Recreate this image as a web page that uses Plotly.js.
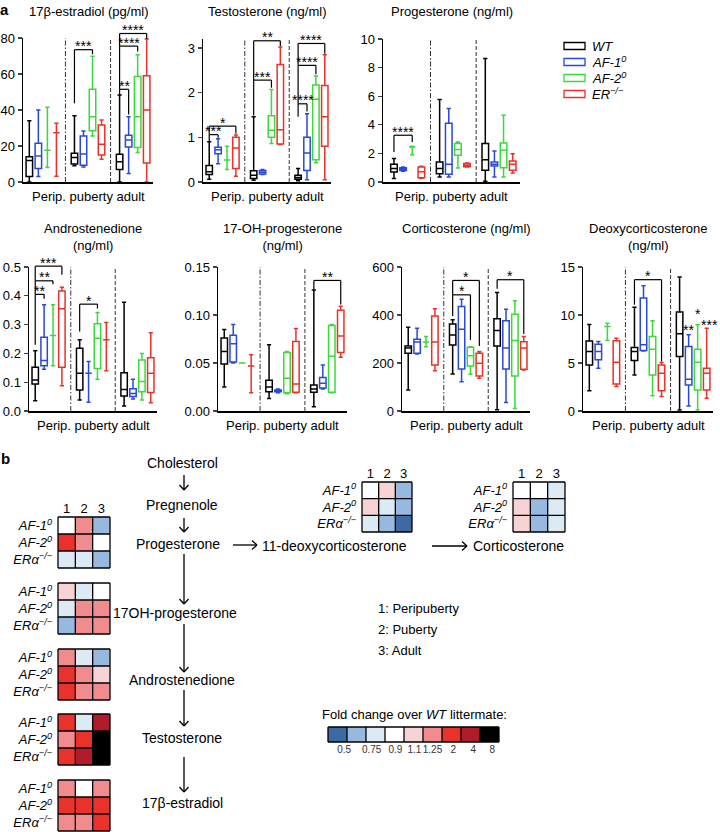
<!DOCTYPE html>
<html>
<head>
<meta charset="utf-8">
<script src="https://cdn.plot.ly/plotly-3.0.1.min.js"></script>
<style>
  html, body { margin: 0; padding: 0; background: #fff; }
  #fig { width: 720px; height: 832px; }
</style>
</head>
<body>
<div id="fig"></div>
<script>
// ---------- data ----------
var groups = ['Perip.', 'puberty', 'adult'];
var genotypes = ['WT', 'AF-1<sup>0</sup>', 'AF-2<sup>0</sup>', 'ER<sup>−/−</sup>'];
var genoColors = ['#000000', '#2a48dc', '#3cd83c', '#e8322a'];

// per genotype (WT, AF-1, AF-2, ER), per group: [low whisker, q1, median, q3, high whisker]
var estradiol = [
  [[0, 3, 12, 14, 34], [9, 10, 13.6, 16, 36.8], [0, 7, 11.2, 15.4, 48.4]],
  [[3, 7.5, 14.5, 21.5, 40], [8.4, 9.3, 15.5, 25.5, 28.3], [4.7, 19.5, 23.3, 26, 36.3]],
  [[8, 17.7, 17.7, 17.7, 41.5], [25.5, 28.5, 36.3, 51.5, 69.8], [16.4, 19.2, 36.3, 58.6, 70.7]],
  [[3.2, 27.3, 27.3, 27.3, 32.6], [12.7, 15, 21, 31.6, 34.4], [0, 10.6, 40, 59, 79.4]]
];
var testosterone = [
  [[0.06, 0.17, 0.23, 0.37, 0.9], [0.04, 0.08, 0.15, 0.25, 1.46], [0.03, 0.06, 0.1, 0.15, 0.3]],
  [[0.41, 0.63, 0.72, 0.78, 0.97], [0.17, 0.18, 0.22, 0.26, 0.28], [0.05, 0.26, 0.65, 1.0, 1.53]],
  [[0.28, 0.49, 0.49, 0.49, 0.8], [0.86, 1.0, 1.16, 1.48, 2.07], [0.43, 0.5, 1.85, 2.17, 2.37]],
  [[0.13, 0.3, 0.76, 1.0, 1.05], [0.84, 0.85, 1.17, 2.63, 3.02], [0.05, 0.8, 1.46, 2.16, 2.85]]
];
var progesterone = [
  [[0.25, 0.7, 0.95, 1.25, 1.65], [0.35, 0.58, 0.95, 1.4, 5.77], [0.05, 0.82, 1.56, 2.69, 8.64]],
  [[0.75, 0.8, 0.9, 1.0, 1.05], [0.35, 0.54, 1.24, 4.1, 5.14], [0.35, 1.12, 1.24, 1.4, 2.17]],
  [[1.9, 2.45, 2.45, 2.45, 2.5], [0.98, 1.87, 2.27, 2.69, 2.8], [0.35, 1.0, 2.22, 2.73, 4.67]],
  [[0.25, 0.3, 0.72, 1.05, 1.1], [1.05, 1.07, 1.17, 1.3, 1.33], [0.63, 0.82, 1.24, 1.47, 1.98]]
];
var androstenedione = [
  [[0.036, 0.094, 0.108, 0.152, 0.209], [0.038, 0.073, 0.131, 0.218, 0.247], [0.017, 0.052, 0.075, 0.133, 0.378]],
  [[0.145, 0.157, 0.175, 0.256, 0.369], [0.03, 0.131, 0.131, 0.131, 0.172], [0.042, 0.05, 0.061, 0.077, 0.11]],
  [[0.157, 0.262, 0.262, 0.262, 0.369], [0.11, 0.148, 0.253, 0.303, 0.342], [0.038, 0.067, 0.102, 0.177, 0.2]],
  [[0.088, 0.152, 0.355, 0.417, 0.43], [0.14, 0.247, 0.247, 0.247, 0.307], [0.029, 0.064, 0.131, 0.185, 0.272]]
];
var ohProgesterone = [
  [[0.025, 0.049, 0.062, 0.076, 0.085], [0.013, 0.02, 0.025, 0.032, 0.069], [0.0045, 0.0195, 0.023, 0.027, 0.126]],
  [[0.05, 0.051, 0.07, 0.079, 0.09], [0.019, 0.02, 0.021, 0.022, 0.023], [0.023, 0.024, 0.029, 0.035, 0.048]],
  [[0.05, 0.05, 0.05, 0.05, 0.05], [0.018, 0.019, 0.034, 0.061, 0.062], [0.019, 0.0195, 0.057, 0.089, 0.09]],
  [[0.019, 0.047, 0.047, 0.047, 0.0585], [0.019, 0.0195, 0.028, 0.0725, 0.086], [0.056, 0.061, 0.078, 0.105, 0.109]]
];
var corticosterone = [
  [[88, 241, 262, 271, 349], [154, 275, 317, 362, 380], [5, 271, 335, 384, 494]],
  [[238, 241, 287, 299, 345], [122, 175, 341, 435, 466], [35, 175, 262, 376, 424]],
  [[268, 287, 287, 287, 310], [153, 188, 230, 266, 268], [10, 146, 294, 403, 459]],
  [[168, 192, 287, 396, 426], [136, 146, 199, 241, 248], [171, 174, 262, 289, 310]]
];
var deoxycorticosterone = [
  [[2.1, 4.8, 6.2, 7.3, 9.0], [3.76, 5.26, 6.2, 6.61, 10.8], [0.1, 5.67, 8.04, 10.3, 13.96]],
  [[4.46, 5.33, 6.2, 6.96, 7.24], [6.25, 6.3, 6.89, 11.76, 13.05], [0.52, 2.71, 3.31, 6.72, 7.94]],
  [[7.34, 8.8, 8.8, 8.8, 9.15], [1.6, 3.76, 6.44, 7.76, 9.4], [0.1, 2.19, 5.08, 6.44, 8.98]],
  [[2.54, 2.82, 5.08, 7.31, 7.59], [1.5, 2.12, 3.93, 4.8, 5.05], [1.32, 2.19, 3.93, 4.46, 8.63]]
];

// significance: [panel, group, genotype from, genotype to, bar value, left foot, right foot, label]
var sigBrackets = [
  [0, 1, 0, 2, 73.5, 43.7, 71, '***'],
  [0, 2, 0, 1, 51.5, 48.5, 37.5, '**'],
  [0, 2, 0, 2, 75.5, 51.5, 72.5, '****'],
  [0, 2, 0, 3, 82.5, 75.5, 79.5, '****'],
  [1, 0, 0, 1, 1.06, 0.9, 0.99, '***'],
  [1, 0, 0, 3, 1.25, 1.06, 1.08, '*'],
  [1, 1, 0, 2, 2.28, 1.49, 2.11, '***'],
  [1, 1, 0, 3, 3.16, 2.28, 3.04, '**'],
  [1, 2, 0, 1, 1.75, 1.46, 1.58, '****'],
  [1, 2, 0, 2, 2.61, 1.75, 2.41, '****'],
  [1, 2, 0, 3, 3.1, 2.61, 2.87, '****'],
  [2, 0, 0, 2, 3.27, 2.1, 2.8, '****'],
  [3, 0, 0, 1, 0.405, 0.23, 0.39, '**'],
  [3, 0, 0, 2, 0.452, 0.405, 0.44, '**'],
  [3, 0, 0, 3, 0.503, 0.452, 0.473, '***'],
  [3, 1, 0, 2, 0.371, 0.276, 0.356, '*'],
  [4, 2, 0, 3, 0.136, 0.126, 0.111, '**'],
  [5, 1, 0, 2, 484, 396, 296, '*'],
  [5, 1, 0, 3, 544, 484, 271, '*'],
  [5, 2, 0, 3, 547, 509, 321, '*'],
  [6, 1, 0, 3, 13.68, 11.07, 5.15, '*']
];
// single stars: [panel, group, genotype, value, label]
var sigStars = [
  [6, 2, 1, 8.74, '**'],
  [6, 2, 2, 10.37, '*'],
  [6, 2, 3, 9.3, '***']
];

// heatmaps: fold change over WT, rows AF-1, AF-2, ERa ; columns 1..3
var hmRows = ['AF-1<sup>0</sup>', 'AF-2<sup>0</sup>', 'ERα<sup>−/−</sup>'];
var hmCols = ['1', '2', '3'];
var foldProgesterone = [[1.0, 1.6, 0.65], [2.8, 1.6, 1.0], [0.85, 0.85, 0.65]];
var fold17OH = [[1.2, 0.85, 1.0], [0.85, 1.6, 1.6], [0.65, 1.6, 1.6]];
var foldAndrostenedione = [[1.6, 0.85, 0.65], [2.8, 1.6, 1.2], [2.8, 1.6, 1.6]];
var foldTestosterone = [[2.8, 0.85, 5], [1.6, 2.8, 10], [2.8, 5, 10]];
var foldEstradiol = [[1.6, 1.0, 1.6], [2.8, 2.8, 2.8], [1.6, 1.6, 2.8]];
var foldDeoxy = [[1.0, 1.2, 0.65], [1.2, 0.85, 0.65], [0.85, 0.65, 0.45]];
var foldCortico = [[1.0, 1.0, 0.85], [1.2, 0.65, 0.85], [1.2, 0.65, 0.85]];

var foldBreaks = [0.5, 0.75, 0.9, 1.1, 1.25, 2, 4, 8];
var foldLabels = ['0.5', '0.75', '0.9', '1.1', '1.25', '2', '4', '8'];
var foldColors = ['#3d6aa3', '#97b8df', '#dcebf3', '#ffffff', '#f8d3d5', '#f08b8e', '#e8322b', '#b01c2b', '#000000'];

// ---------- helpers ----------
var W = 720, H = 832;
function px(x) { return x / W; }
function py(y) { return 1 - y / H; }
function axName(n, l) { return l + 'axis' + (n === 1 ? '' : n); }
function axRef(n, l) { return l + (n === 1 ? '' : n); }

var traces = [], shapes = [], annotations = [];

function line(x0, y0, x1, y1, color, width, dash) {
  shapes.push({type: 'line', xref: 'paper', yref: 'paper', x0: px(x0), y0: py(y0), x1: px(x1), y1: py(y1),
    line: {color: color || '#000', width: width || 1.2, dash: dash || 'solid'}});
}
function text(x, y, s, opts) {
  var a = {xref: 'paper', yref: 'paper', x: px(x), y: py(y), text: s, showarrow: false,
    xanchor: 'center', yanchor: 'middle', font: {size: 13, color: '#000'}};
  for (var k in opts) a[k] = opts[k];
  annotations.push(a);
}
// arrow with an open chevron head, drawn as line shapes
function arrow(x0, y0, x1, y1) {
  var dx = x1 - x0, dy = y1 - y0, len = Math.sqrt(dx * dx + dy * dy);
  var ux = dx / len, uy = dy / len;
  line(x0, y0, x1, y1, '#000', 1.3);
  line(x1, y1, x1 - 5 * ux + 4.5 * uy, y1 - 5 * uy - 4.5 * ux, '#000', 1.3);
  line(x1, y1, x1 - 5 * ux - 4.5 * uy, y1 - 5 * uy + 4.5 * ux, '#000', 1.3);
}
function foldBin(v) {
  var b = 0;
  foldBreaks.forEach(function(t) { if (v >= t) b++; });
  return b;
}
var binScale = [];
foldColors.forEach(function(c, i) {
  binScale.push([i / foldColors.length, c]);
  binScale.push([(i + 1) / foldColors.length, c]);
});

// ---------- box panels ----------
var panels = [
  {title: '17β-estradiol (pg/ml)', stats: estradiol, top: 80, dtick: 20, fmt: '', xpx: [23, 153], ypx: [38, 182], xr: [-0.7, 13.7]},
  {title: 'Testosterone (ng/ml)', stats: testosterone, top: 3.2, dtick: 1, fmt: '', xpx: [203, 331], ypx: [39, 182], xr: [-0.7, 13.7]},
  {title: 'Progesterone (ng/ml)', stats: progesterone, top: 10, dtick: 2, fmt: '', xpx: [383, 520], ypx: [39, 182], xr: [-1.2, 13.8]},
  {title: 'Androstenedione<br>(ng/ml)', stats: androstenedione, top: 0.5, dtick: 0.1, fmt: '.1f', xpx: [29, 157], ypx: [267, 411], xr: [-0.7, 13.7]},
  {title: '17-OH-progesterone<br>(ng/ml)', stats: ohProgesterone, top: 0.15, dtick: 0.05, fmt: '.2f', xpx: [218, 347], ypx: [267, 411], xr: [-0.7, 13.7]},
  {title: 'Corticosterone (ng/ml)', stats: corticosterone, top: 600, dtick: 200, fmt: '', xpx: [402, 530], ypx: [267, 411], xr: [-0.7, 13.7]},
  {title: 'Deoxycorticosterone<br>(ng/ml)', stats: deoxycorticosterone, top: 15, dtick: 5, fmt: '', xpx: [583, 713], ypx: [267, 411], xr: [-0.7, 13.7]}
];

function pX(p, x) { return p.xpx[0] + (x - p.xr[0]) / (p.xr[1] - p.xr[0]) * (p.xpx[1] - p.xpx[0]); }
function pY(p, v) { return p.ypx[1] - v / p.top * (p.ypx[1] - p.ypx[0]); }
function boxPos(g, k) { return g * 5 + k; }

var layout = {
  width: W, height: H,
  margin: {l: 0, r: 0, t: 0, b: 0},
  showlegend: false,
  hovermode: false,
  paper_bgcolor: '#fff',
  plot_bgcolor: 'rgba(0,0,0,0)',
  font: {family: 'Arial, "Liberation Sans", sans-serif', size: 13, color: '#000'}
};

panels.forEach(function(p, i) {
  var n = i + 1;
  layout[axName(n, 'x')] = {
    domain: [px(p.xpx[0]), px(p.xpx[1])], range: p.xr, anchor: axRef(n, 'y'),
    showline: true, linecolor: '#000', linewidth: 1.5, showticklabels: false,
    ticks: '', showgrid: false, zeroline: false, fixedrange: true
  };
  layout[axName(n, 'y')] = {
    domain: [py(p.ypx[1]), py(p.ypx[0])], range: [0, p.top], anchor: axRef(n, 'x'),
    dtick: p.dtick, tick0: 0, tickformat: p.fmt, ticks: 'outside', ticklen: 4, tickwidth: 1.3,
    showline: true, linecolor: '#000', linewidth: 1.5, showgrid: false, zeroline: false,
    tickfont: {size: 13, color: '#000'}, fixedrange: true
  };
  p.stats.forEach(function(st, k) {
    traces.push({
      type: 'box', xaxis: axRef(n, 'x'), yaxis: axRef(n, 'y'),
      x: groups.map(function(g, gi) { return boxPos(gi, k); }),
      lowerfence: st.map(function(s) { return s[0]; }),
      q1: st.map(function(s) { return s[1]; }),
      median: st.map(function(s) { return s[2]; }),
      q3: st.map(function(s) { return s[3]; }),
      upperfence: st.map(function(s) { return s[4]; }),
      width: 0.72, whiskerwidth: 0.65, boxpoints: false,
      line: {color: genoColors[k], width: 1.5},
      fillcolor: 'rgba(255,255,255,0)',
      name: genotypes[k], hoverinfo: 'skip', showlegend: false
    });
  });
  // group dividers
  line(pX(p, 4), p.ypx[1], pX(p, 4), p.ypx[0], '#333', 1, '5px,2px,1.5px,2px');
  line(pX(p, 9), p.ypx[1], pX(p, 9), p.ypx[0], '#333', 1, '4px,2px');
  // title and group label
  var cx = (p.xpx[0] + p.xpx[1]) / 2;
  if (i < 3) text(cx, 12, p.title);
  else text(cx, p.title.indexOf('<br>') > 0 ? 236.5 : 228, p.title);
  text(cx, p.ypx[1] + 14, groups.join(' '));
});

sigBrackets.forEach(function(b) {
  var p = panels[b[0]];
  var xl = pX(p, boxPos(b[1], b[2])), xr = pX(p, boxPos(b[1], b[3]));
  var yb = pY(p, b[4]);
  line(xl, pY(p, b[5]), xl, yb);
  line(xl, yb, xr, yb);
  line(xr, yb, xr, pY(p, b[6]));
  text((xl + xr) / 2, yb - 3.5, b[7], {font: {size: 14, color: '#000'}});
});
sigStars.forEach(function(s) {
  var p = panels[s[0]];
  text(pX(p, boxPos(s[1], s[2])) + (s[2] === 3 ? 3 : 0), pY(p, s[3]) + 3, s[4], {font: {size: 14, color: '#000'}});
});

// legend
genotypes.forEach(function(g, i) {
  var yc = 46 + 16 * i;
  shapes.push({type: 'rect', xref: 'paper', yref: 'paper', x0: px(564), x1: px(585), y0: py(yc + 3.5), y1: py(yc - 3.5),
    line: {color: genoColors[i], width: 1.3}, fillcolor: 'rgba(0,0,0,0)'});
  text(590, yc, '<i>' + g + '</i>', {xanchor: 'left'});
});

// ---------- heatmaps ----------
var heatmaps = [
  {z: foldProgesterone, xpx: [58, 110], ypx: [517, 568], cols: true},
  {z: fold17OH, xpx: [58, 110], ypx: [583, 634], cols: false},
  {z: foldAndrostenedione, xpx: [58, 110], ypx: [649, 700], cols: false},
  {z: foldTestosterone, xpx: [58, 110], ypx: [714, 765], cols: false},
  {z: foldEstradiol, xpx: [58, 110], ypx: [780, 831], cols: false},
  {z: foldDeoxy, xpx: [362, 412], ypx: [482, 532], cols: true},
  {z: foldCortico, xpx: [513, 565], ypx: [482, 532], cols: true}
];

function gridBox(xpx, ypx, nx, ny) {
  for (var i = 0; i <= nx; i++) {
    var x = xpx[0] + (xpx[1] - xpx[0]) * i / nx;
    line(x, ypx[0], x, ypx[1], '#000', 1.3);
  }
  for (var j = 0; j <= ny; j++) {
    var y = ypx[0] + (ypx[1] - ypx[0]) * j / ny;
    line(xpx[0], y, xpx[1], y, '#000', 1.3);
  }
}

heatmaps.forEach(function(h, i) {
  var n = panels.length + i + 1;
  traces.push({
    type: 'heatmap', xaxis: axRef(n, 'x'), yaxis: axRef(n, 'y'),
    x: [0, 1, 2], y: [0, 1, 2],
    z: h.z.map(function(r) { return r.map(foldBin); }),
    zmin: -0.5, zmax: 8.5, colorscale: binScale, showscale: false, hoverinfo: 'skip'
  });
  layout[axName(n, 'x')] = {
    domain: [px(h.xpx[0]), px(h.xpx[1])], range: [-0.5, 2.5], anchor: axRef(n, 'y'),
    side: 'top', tickvals: [0, 1, 2], ticktext: hmCols, showticklabels: h.cols, ticks: '',
    showgrid: false, zeroline: false, showline: false, tickfont: {size: 13, color: '#000'}, fixedrange: true
  };
  layout[axName(n, 'y')] = {
    domain: [py(h.ypx[1]), py(h.ypx[0])], range: [2.5, -0.5], anchor: axRef(n, 'x'),
    tickvals: [0, 1, 2], ticktext: hmRows.map(function(r) { return '<i>' + r + '</i>'; }),
    ticks: '', ticklabelstandoff: 5, showgrid: false, zeroline: false, showline: false,
    tickfont: {size: 13, color: '#000'}, fixedrange: true
  };
  gridBox(h.xpx, h.ypx, 3, 3);
});

// colour key
(function() {
  var n = panels.length + heatmaps.length + 1;
  var xpx = [328, 499], ypx = [727, 742];
  traces.push({
    type: 'heatmap', xaxis: axRef(n, 'x'), yaxis: axRef(n, 'y'),
    z: [foldColors.map(function(c, i) { return i; })],
    zmin: -0.5, zmax: 8.5, colorscale: binScale, showscale: false, hoverinfo: 'skip'
  });
  layout[axName(n, 'x')] = {
    domain: [px(xpx[0]), px(xpx[1])], range: [-0.5, 8.5], anchor: axRef(n, 'y'),
    tickvals: [0.35, 1.8, 3.05, 4.05, 5, 6.1, 7.15, 8.15], ticktext: foldLabels, ticks: '',
    tickangle: 0, showgrid: false, zeroline: false, showline: false,
    tickfont: {size: 10, color: '#333'}, fixedrange: true
  };
  layout[axName(n, 'y')] = {
    domain: [py(ypx[1]), py(ypx[0])], range: [-0.5, 0.5], anchor: axRef(n, 'x'),
    showticklabels: false, ticks: '', showgrid: false, zeroline: false, showline: false, fixedrange: true
  };
  gridBox(xpx, ypx, foldColors.length, 1);
  text(320, 714, 'Fold change over <i>WT</i> littermate:', {xanchor: 'left'});
})();

// ---------- pathway ----------
var pathFont = {size: 14, color: '#000'};
text(182, 463, 'Cholesterol', {font: pathFont});
text(182, 505, 'Pregnenole', {font: pathFont});
text(178, 544, 'Progesterone', {font: pathFont});
text(175, 613, '17OH-progesterone', {font: pathFont});
text(182, 680, 'Androstenedione', {font: pathFont});
text(182, 738, 'Testosterone', {font: pathFont});
text(182, 803, '17β-estradiol', {font: pathFont});
text(334, 546, '11-deoxycorticosterone', {font: pathFont});
text(518, 546, 'Corticosterone', {font: pathFont});
arrow(184, 475, 184, 490);
arrow(184, 518, 184, 532);
arrow(184, 554, 184, 604);
arrow(184, 624, 184, 672);
arrow(184, 690, 184, 726);
arrow(184, 757, 184, 792);
arrow(233, 545, 257, 545);
arrow(432, 546, 467, 546);

text(376, 608, '1: Peripuberty', {xanchor: 'left'});
text(376, 629, '2: Puberty', {xanchor: 'left'});
text(376, 650, '3: Adult', {xanchor: 'left'});

// panel letters
text(4, 9, '<b>a</b>', {font: {size: 15, color: '#000'}});
text(5, 458, '<b>b</b>', {font: {size: 15, color: '#000'}});

layout.shapes = shapes;
layout.annotations = annotations;

Plotly.newPlot('fig', traces, layout, {staticPlot: true, displayModeBar: false});
</script>
</body>
</html>
